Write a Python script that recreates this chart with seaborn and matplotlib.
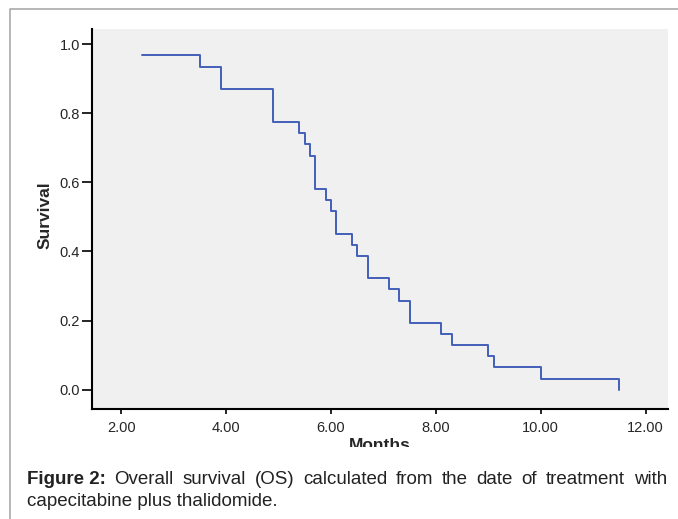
import matplotlib
matplotlib.use("Agg")
import matplotlib.pyplot as plt
import seaborn as sns
from matplotlib.patches import Rectangle
from matplotlib.lines import Line2D

# Kaplan-Meier steps
months = [2.4, 3.5, 3.9, 4.9, 5.4, 5.5, 5.6, 5.7, 5.9, 6.0, 6.1, 6.4,
          6.5, 6.7, 7.1, 7.3, 7.5, 8.1, 8.3, 9.0, 9.1, 10.0, 11.5]
survival = [0.968, 0.935, 0.871, 0.774, 0.742, 0.710, 0.677, 0.581,
            0.548, 0.516, 0.452, 0.419, 0.387, 0.323, 0.290, 0.258,
            0.194, 0.161, 0.129, 0.097, 0.065, 0.032, 0.0]
x_ticks = [2, 4, 6, 8, 10, 12]
y_ticks = [0.0, 0.2, 0.4, 0.6, 0.8, 1.0]
caption_bold = 'Figure 2:'
caption_line1 = 'Overall survival (OS) calculated from the date of treatment with'
caption_line2 = 'capecitabine plus thalidomide.'

sns.set_style("white")
plt.rcParams['font.family'] = ['Liberation Sans', 'DejaVu Sans']

W, H = 678, 519
fig = plt.figure(figsize=(W / 100, H / 100), dpi=100)
ax = fig.add_axes([91.7 / W, 1 - 409 / H, (667.7 - 91.7) / W, (409 - 29) / H])
ax.set_facecolor('#f0f0f0')

sns.lineplot(x=months, y=survival, ax=ax, drawstyle='steps-post',
             color='#4260b8', linewidth=1.4, estimator=None, sort=False)

ax.set_xlim(1.44, 12.42)
ax.set_ylim(-0.056, 1.044)
ax.set_xticks(x_ticks)
ax.set_xticklabels([f'{t:.2f}' for t in x_ticks], fontsize=10.5)
ax.set_yticks(y_ticks)
ax.set_yticklabels([f'{t:.1f}' for t in y_ticks], fontsize=10.5)
ax.tick_params(axis='y', direction='out', length=7, width=1.2,
               color='black', pad=1.5, left=True)
ax.tick_params(axis='x', direction='out', length=3.5, width=1.2,
               color='black', pad=5, bottom=True)
for s in ['top', 'right']:
    ax.spines[s].set_visible(False)
for s in ['left', 'bottom']:
    ax.spines[s].set_color('black')
    ax.spines[s].set_linewidth(1.5)

ax.set_ylabel('Survival', fontsize=12.5, fontweight='bold')
ax.yaxis.set_label_coords(-0.068, 0.51)
ax.set_xlabel('Months', fontsize=12.5, fontweight='bold', labelpad=2)

# white band hiding the lower half of the axis title, as in the source image
fig.patches.append(Rectangle((0, 0), 1, 1 - 447 / H, transform=fig.transFigure,
                             facecolor='white', edgecolor='none', zorder=5))

# caption, first line justified between the margins
cap_size = 13.5
cap_color = '#222222'
left_px, right_px = 27, 667
y1 = 1 - 479 / H
y2 = 1 - 501 / H
renderer = fig.canvas.get_renderer()
words = [(caption_bold, 'bold')] + [(w, 'normal') for w in caption_line1.split()]
texts = []
for w, fw in words:
    texts.append(fig.text(0, y1, w, fontsize=cap_size, fontweight=fw,
                          color=cap_color, va='center', zorder=6))
widths = [tx.get_window_extent(renderer).width for tx in texts]
gap = (right_px - left_px - sum(widths)) / (len(texts) - 1)
x = left_px
for tx, wd in zip(texts, widths):
    tx.set_x(x / W)
    x += wd + gap
fig.text(left_px / W, y2, caption_line2, fontsize=cap_size,
         color=cap_color, va='center', zorder=6)

# panel frame
fig.lines.append(Line2D([10 / W, 10 / W, 1], [0, 1 - 9 / H, 1 - 9 / H],
                        transform=fig.transFigure, color='#aaaaaa', lw=1.2, zorder=7))

fig.savefig('out.png', dpi=100)
